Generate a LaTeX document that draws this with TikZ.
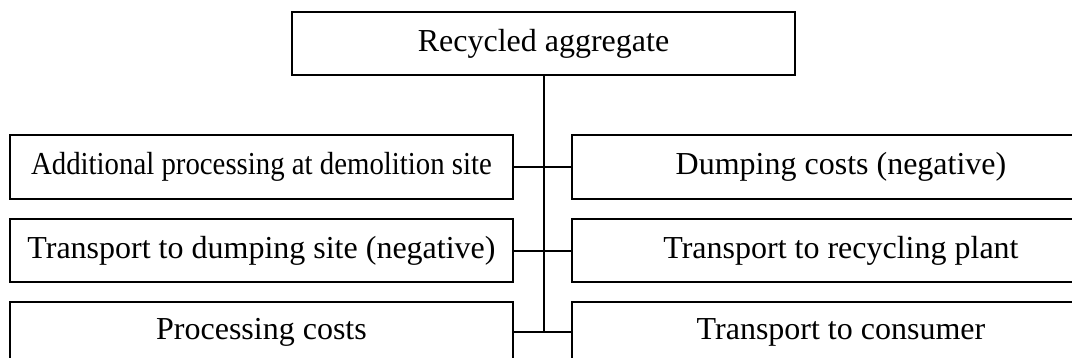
\documentclass[tikz,border=0pt]{standalone}
\usepackage{fontspec}
\setmainfont{Liberation Serif}
\usetikzlibrary{positioning}

\begin{document}
\begin{tikzpicture}[
      x=0.5pt, y=-0.5pt,
      box/.style={rectangle, draw, line width=1pt, minimum width=251.5pt,
                  align=center, font=\fontsize{16}{19}\selectfont, inner sep=2pt},
      rbox/.style={box, minimum width=269pt},
      link/.style={line width=1pt},
    ]
    \useasboundingbox (0,0) rectangle (1072,358);
    \clip (0,0) rectangle (1072,358);

    \node[box, minimum height=31.5pt] (aggr) at (543.5, 43.5) {Recycled aggregate};

    % left column
    \node[box, minimum height=32pt]   (extra)   at (261.5, 167)   {\scalebox{0.9}[1]{Additional processing at demolition site}};
    \node[box, minimum height=31.5pt] (todump)  at (261.5, 250.5) {Transport to dumping site (negative)};
    \node[box, minimum height=30pt]   (process) at (261.5, 332)   {Processing costs};

    % right column
    \node[rbox, minimum height=32pt]   (dumping)  at (841, 167)   {Dumping costs (negative)};
    \node[rbox, minimum height=31.5pt] (torecyc)  at (841, 250.5) {Transport to recycling plant};
    \node[rbox, minimum height=30pt]   (toconsum) at (841, 332)   {Transport to consumer};

    \draw[link] (aggr.south) -- (aggr.south |- process.east);
    \draw[link] (extra.east) -- (dumping.west);
    \draw[link] (todump.east) -- (torecyc.west);
    \draw[link] (process.east) -- (toconsum.west);
  \end{tikzpicture}
\end{document}
